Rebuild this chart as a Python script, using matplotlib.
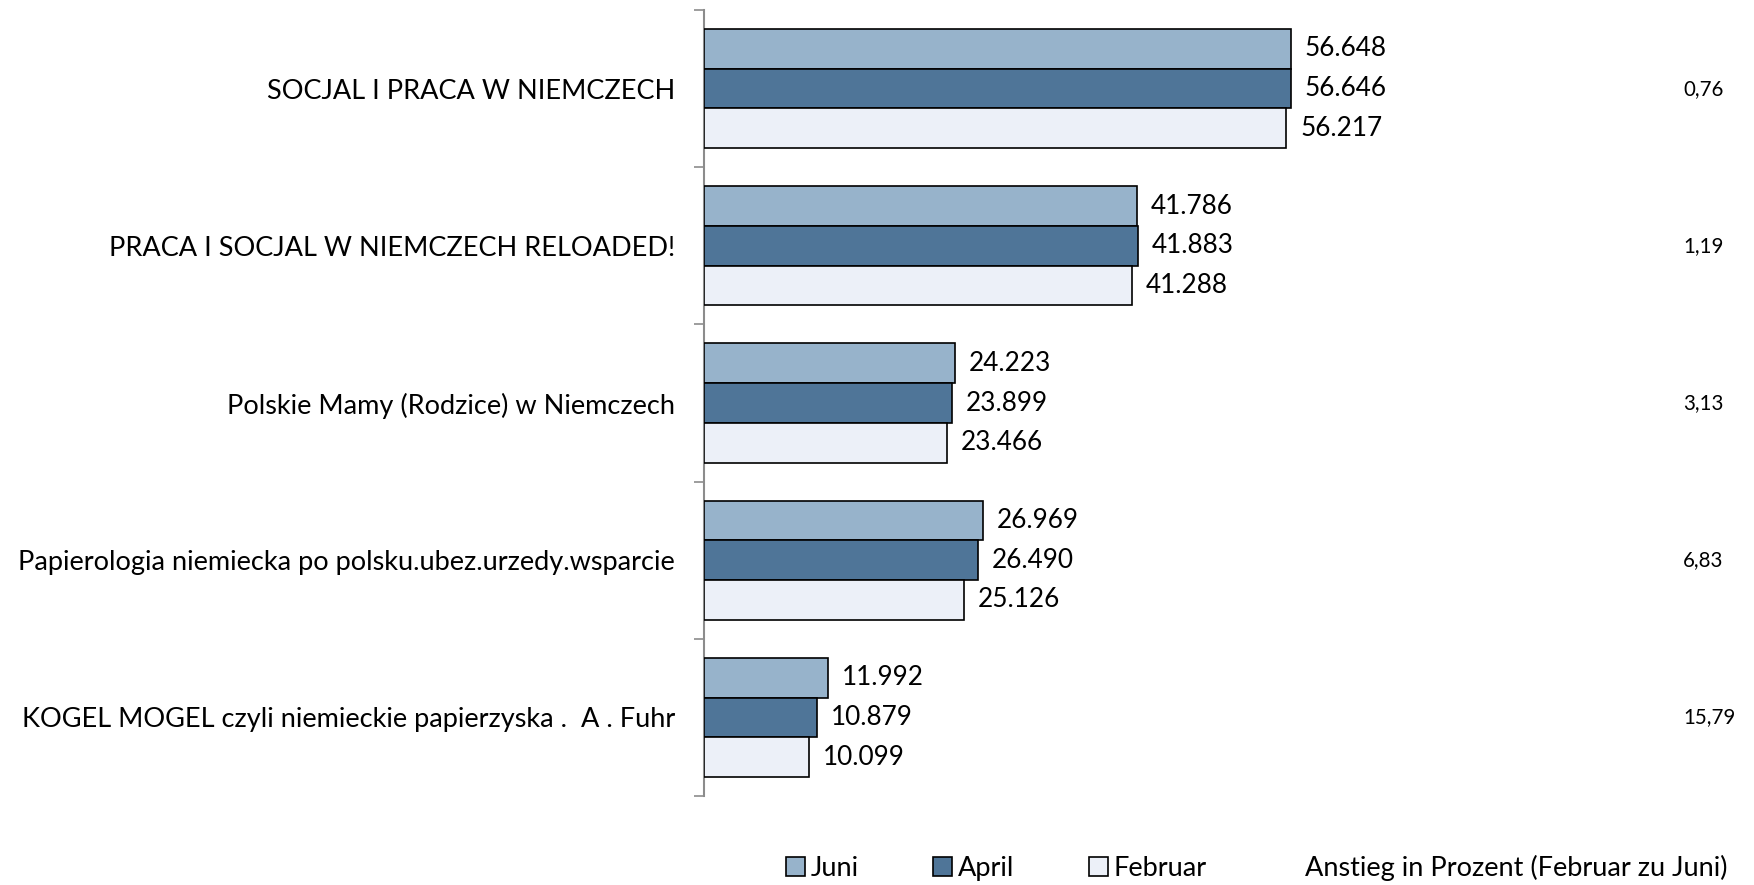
import matplotlib
matplotlib.use("Agg")
import matplotlib.pyplot as plt
import matplotlib.transforms as mtransforms
from matplotlib.patches import Patch
import numpy as np

plt.rcParams['font.family'] = ['Lato', 'DejaVu Sans']

categories = [
    "SOCJAL I PRACA W NIEMCZECH",
    "PRACA I SOCJAL W NIEMCZECH RELOADED!",
    "Polskie Mamy (Rodzice) w Niemczech",
    "Papierologia niemiecka po polsku.ubez.urzedy.wsparcie",
    "KOGEL MOGEL czyli niemieckie papierzyska .  A . Fuhr",
]
juni = [56648, 41786, 24223, 26969, 11992]
april = [56646, 41883, 23899, 26490, 10879]
februar = [56217, 41288, 23466, 25126, 10099]
anstieg = ["0,76", "1,19", "3,13", "6,83", "15,79"]
series_names = ["Juni", "April", "Februar"]
legend_extra = "Anstieg in Prozent (Februar zu Juni)"

colors = ["#97B3CB", "#4F7598", "#ECF0F8"]

W, H = 1754, 885
fig = plt.figure(figsize=(W / 100, H / 100), dpi=100)
ax = fig.add_axes([704 / W, 1 - 796 / H, 1000 / W, (796 - 10) / H])

y = np.arange(len(categories))
bh = 0.2525
fs_cat = 19.5
fs_val = 18.8

def fmt(v):
    return f"{v:,}".replace(",", ".")

for i, (vals, col) in enumerate(zip([juni, april, februar], colors)):
    pos = y + (i - 1) * bh
    bars = ax.barh(pos, vals, height=bh, color=col, edgecolor="black", linewidth=1.2, zorder=3)
    for b, v in zip(bars, vals):
        ax.annotate(fmt(v), xy=(v, b.get_y() + b.get_height() / 2), xytext=(10, 0),
                    textcoords="offset points", va="center", ha="left", fontsize=fs_val)

ax.set_xlim(0, 1000 / 10.357 * 1000)
ax.set_ylim(len(categories) - 0.5, -0.5)

ax.set_yticks(y)
ax.set_yticklabels(categories, fontsize=fs_cat)
ax.tick_params(axis="y", which="major", length=0, pad=21)
ax.set_yticks(np.arange(-0.5, len(categories), 1), minor=True)
ax.tick_params(axis="y", which="minor", length=7, width=1.2, color="#8C8C8C")
ax.set_xticks([])
for s in ["top", "right", "bottom"]:
    ax.spines[s].set_visible(False)
ax.spines["left"].set_color("#8C8C8C")
ax.spines["left"].set_linewidth(1.5)

trans = mtransforms.blended_transform_factory(fig.transFigure, ax.transData)
for yi, t in zip(y, anstieg):
    ax.text(1683 / W, yi, t, transform=trans, ha="left", va="center", fontsize=14.8)

handles = [Patch(facecolor=c, edgecolor="black", linewidth=1.2) for c in colors]
handles.append(Patch(facecolor="none", edgecolor="none"))
labels = series_names + [legend_extra]
leg = fig.legend(handles, labels, loc="center", bbox_to_anchor=(1257 / W, 1 - 868 / H),
                 ncol=4, frameon=False, fontsize=fs_cat, handlelength=0.7, handleheight=0.7,
                 handletextpad=0.2, columnspacing=2.75)

fig.savefig("out.png", dpi=100)
